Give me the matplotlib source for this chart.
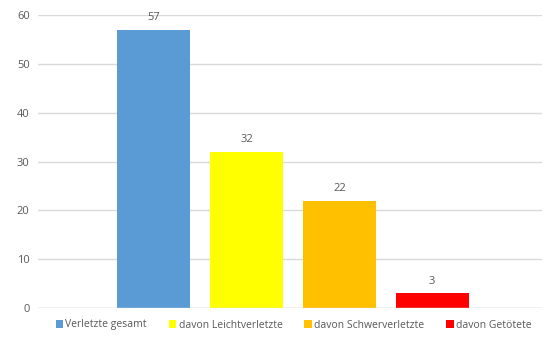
import matplotlib.pyplot as plt
from matplotlib.patches import Patch

series = ["Verletzte gesamt", "davon Leichtverletzte", "davon Schwerverletzte", "davon Getötete"]
values = [57, 32, 22, 3]
colors = ["#5B9BD5", "#FFFF00", "#FFC000", "#FF0000"]
yticks = [0, 10, 20, 30, 40, 50, 60]

text_color = "#595959"
plt.rcParams["font.family"] = ["Open Sans", "DejaVu Sans"]

fig = plt.figure(figsize=(5.49, 3.49), dpi=100)
ax = fig.add_axes([38 / 549, 1 - 308 / 349, 504 / 549, 293 / 349])

step = 0.184
width = 0.145
for i, (name, v, c) in enumerate(zip(series, values, colors)):
    x = 0.006 + (i - 1.5) * step
    ax.bar(x, v, width=width, color=c, label=name, zorder=3)
    ax.text(x, v + 1.4, str(v), ha="center", va="bottom", fontsize=8, color=text_color)

ax.set_xlim(-0.5, 0.5)
ax.set_ylim(0, 60)
ax.set_yticks(yticks)
ax.set_xticks([])
ax.grid(axis="y", color="#D9D9D9", linewidth=1, zorder=0)
for s in ax.spines.values():
    s.set_visible(False)
ax.axhline(0, color="#D9D9D9", linewidth=1, zorder=4)
ax.tick_params(axis="y", length=0, pad=6, labelsize=8, labelcolor=text_color)

handles = [Patch(facecolor=c, label=n) for n, c in zip(series, colors)]
fig.legend(handles=handles, loc="center", bbox_to_anchor=(0.535, 1 - 325 / 349), ncol=4,
           frameon=False, fontsize=7.5, labelcolor=text_color, handlelength=0.7,
           handleheight=0.7, handletextpad=0.25, columnspacing=2.1)

fig.savefig("out.png", dpi=100)
